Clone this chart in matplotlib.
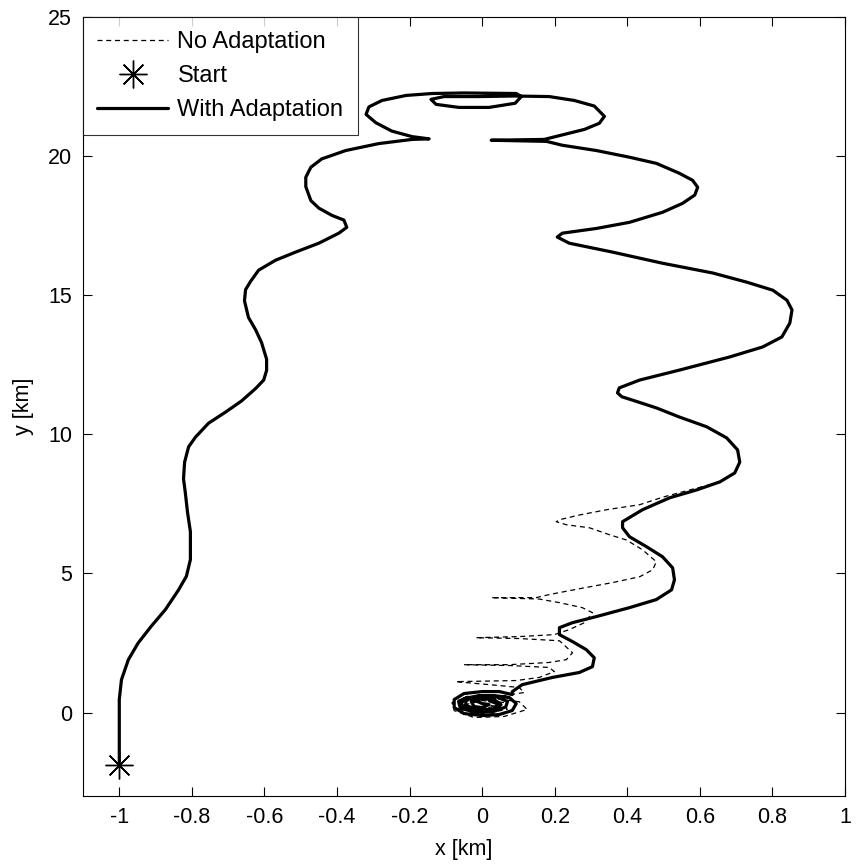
import matplotlib
matplotlib.use("Agg")
import matplotlib.pyplot as plt
import numpy as np

plt.rcParams['font.family'] = ['Liberation Sans', 'DejaVu Sans']

# With Adaptation trajectory [km]
adapt_x = [-1.0, -1.0, -0.994, -0.975, -0.948, -0.912, -0.873, -0.837, -0.815, -0.804,
           -0.804, -0.812, -0.818, -0.823, -0.82, -0.809, -0.79, -0.754, -0.707, -0.663,
           -0.624, -0.602, -0.594, -0.594, -0.608, -0.624, -0.644, -0.655, -0.652, -0.638,
           -0.616, -0.569, -0.514, -0.45, -0.395, -0.373, -0.381, -0.414, -0.45, -0.472,
           -0.486, -0.486, -0.472, -0.442, -0.376, -0.285, -0.193, -0.146, -0.193, -0.249,
           -0.293, -0.32, -0.312, -0.276, -0.21, -0.138, -0.05, 0.094, 0.108, 0.091,
           0.019, -0.064, -0.127, -0.141, -0.105, -0.008, 0.088, 0.185, 0.254, 0.309,
           0.337, 0.323, 0.282, 0.227, 0.171, 0.025, 0.177, 0.221, 0.315, 0.406,
           0.48, 0.544, 0.58, 0.594, 0.586, 0.552, 0.497, 0.406, 0.315, 0.221,
           0.207, 0.24, 0.359, 0.497, 0.635, 0.729, 0.801, 0.84, 0.854, 0.848,
           0.826, 0.773, 0.682, 0.544, 0.434, 0.378, 0.373, 0.385, 0.414, 0.48,
           0.544, 0.619, 0.674, 0.704, 0.71, 0.696, 0.655, 0.591, 0.517, 0.442,
           0.387, 0.387, 0.406, 0.453, 0.497, 0.525, 0.53, 0.522, 0.48, 0.406,
           0.315, 0.249, 0.213, 0.213, 0.249, 0.287, 0.309, 0.304, 0.268, 0.193,
           0.11, 0.083, 0.083, 0.047, 0.0, -0.05, -0.077, -0.077, -0.05, 0.0,
           0.047, 0.083, 0.094, 0.075, 0.033, -0.008, -0.05, -0.058, -0.036, 0.0,
           0.039, 0.052, 0.033, 0.0, -0.03, -0.022, 0.0, 0.019, 0.0,
           -0.04, -0.065, -0.06, -0.02, 0.03, 0.065, 0.07, 0.04, -0.01, -0.045,
           -0.045, -0.01, 0.03, 0.045, 0.02]
adapt_y = [-1.9, 0.47, 1.18, 1.9, 2.5, 3.1, 3.7, 4.4, 4.9, 5.5,
           6.5, 7.2, 7.9, 8.4, 9.0, 9.55, 9.9, 10.4, 10.8, 11.2,
           11.65, 11.95, 12.3, 12.7, 13.3, 13.75, 14.2, 14.8, 15.2, 15.5,
           15.9, 16.26, 16.55, 16.87, 17.23, 17.44, 17.7, 17.87, 18.13, 18.4,
           18.9, 19.24, 19.6, 19.9, 20.2, 20.45, 20.6, 20.62, 20.7, 20.9,
           21.2, 21.5, 21.77, 22.0, 22.18, 22.25, 22.27, 22.25, 22.14, 21.9,
           21.75, 21.75, 21.86, 22.04, 22.14, 22.14, 22.16, 22.14, 22.0, 21.8,
           21.43, 21.18, 20.96, 20.78, 20.6, 20.57, 20.53, 20.39, 20.2, 19.96,
           19.74, 19.38, 19.13, 18.88, 18.6, 18.3, 17.98, 17.62, 17.4, 17.23,
           17.09, 16.87, 16.55, 16.15, 15.8, 15.47, 15.18, 14.82, 14.47, 14.0,
           13.5, 13.14, 12.78, 12.31, 11.95, 11.67, 11.49, 11.35, 11.23, 10.95,
           10.62, 10.27, 9.87, 9.44, 9.0, 8.61, 8.29, 8.0, 7.72, 7.29,
           6.86, 6.64, 6.32, 5.96, 5.6, 5.2, 4.77, 4.41, 4.06, 3.77,
           3.45, 3.23, 3.05, 2.8, 2.55, 2.26, 1.97, 1.65, 1.44, 1.26,
           1.0, 0.75, 0.646, 0.754, 0.754, 0.682, 0.467, 0.18, -0.036, -0.108,
           -0.072, 0.072, 0.323, 0.538, 0.61, 0.61, 0.5, 0.287, 0.108, 0.036,
           0.108, 0.287, 0.467, 0.5, 0.395, 0.215, 0.18, 0.287, 0.323,
           0.55, 0.4, 0.15, 0.02, 0.03, 0.2, 0.4, 0.56, 0.58, 0.45,
           0.25, 0.1, 0.12, 0.3, 0.42]

# No Adaptation trajectory [km] (part that departs from the adapted path)
noadapt_x = [0.63, 0.572, 0.50, 0.434, 0.343, 0.268, 0.213, 0.204, 0.232, 0.296,
             0.351, 0.398, 0.442, 0.48, 0.47, 0.434, 0.359, 0.268, 0.185, 0.149,
             0.025, 0.157, 0.213, 0.276, 0.304, 0.282, 0.24, 0.199, 0.102, -0.017,
             0.102, 0.213, 0.249, 0.232, 0.185, 0.075, -0.05, 0.075, 0.185, 0.199,
             0.157, 0.094, -0.072, 0.047, 0.102, 0.116, 0.061, -0.036, -0.083, -0.077,
             -0.022, 0.061, 0.124, 0.102, 0.033, -0.05, -0.064, 0.0, 0.069, 0.061,
             0.0, -0.044, -0.008, 0.039, 0.006]
noadapt_y = [8.2, 8.0, 7.75, 7.47, 7.29, 7.1, 6.93, 6.86, 6.75, 6.64,
             6.39, 6.2, 5.85, 5.42, 5.13, 4.88, 4.67, 4.45, 4.24, 4.13,
             4.13, 4.08, 3.95, 3.77, 3.59, 3.23, 2.98, 2.8, 2.73, 2.69,
             2.66, 2.58, 2.15, 1.9, 1.8, 1.72, 1.72, 1.69, 1.62, 1.47,
             1.26, 1.15, 1.11, 0.97, 0.9, 0.72, 0.61, 0.57, 0.36, 0.07,
             -0.18, -0.14, 0.11, 0.39, 0.5, 0.39, 0.14, -0.04, 0.11, 0.36,
             0.43, 0.29, 0.14, 0.22, 0.29]

start_x = [-1.0]
start_y = [-1.9]

xticks = [-1, -0.8, -0.6, -0.4, -0.2, 0, 0.2, 0.4, 0.6, 0.8, 1]
xtick_labels = ['-1', '-0.8', '-0.6', '-0.4', '-0.2', '0', '0.2', '0.4', '0.6', '0.8', '1']
yticks = [0, 5, 10, 15, 20, 25]
ytick_labels = ['0', '5', '10', '15', '20', '25']

fig = plt.figure(figsize=(8.56, 8.64), dpi=100)
ax = fig.add_axes([83/856, 68/864, 762/856, 779/864])

ax.plot(noadapt_x, noadapt_y, color='black', lw=0.9, ls=(0, (4, 3)),
        label='No Adaptation', zorder=2)
ax.plot(start_x, start_y, ls='none', marker=(8, 2, 0), ms=20, mew=1.0,
        color='black', label='Start', zorder=4)
ax.plot(adapt_x, adapt_y, color='black', lw=2.3, solid_joinstyle='round',
        solid_capstyle='round', label='With Adaptation', zorder=3)

ax.set_xlim(-1.1, 1.0)
ax.set_ylim(-3, 25)
ax.set_xticks(xticks)
ax.set_xticklabels(xtick_labels)
ax.set_yticks(yticks)
ax.set_yticklabels(ytick_labels)
ax.tick_params(direction='in', length=6.5, width=0.8, top=True, right=True,
               labelsize=15.5, pad=8, colors='black')
for s in ax.spines.values():
    s.set_linewidth(0.8)
ax.set_xlabel('x [km]', fontsize=15.5, labelpad=8)
ax.set_ylabel('y [km]', fontsize=15.5, labelpad=10)

leg = ax.legend(loc='upper left', fontsize=17, frameon=True, fancybox=False,
                edgecolor='black', borderaxespad=0, handlelength=3.0,
                labelspacing=0.5, borderpad=0.6, handletextpad=0.4)
leg.get_frame().set_linewidth(0.8)

fig.savefig('out.png', dpi=100)
